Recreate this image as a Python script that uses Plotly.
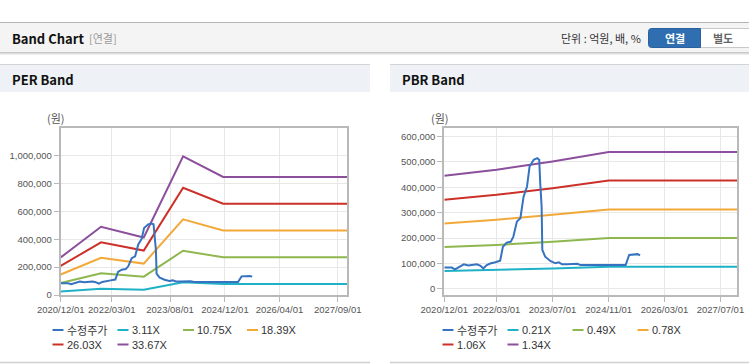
import plotly.graph_objects as go

W, H = 749, 364

# ---------------- data ----------------
price_name = "수정주가"
price_dates = ["2020-12-01", "2021-01-10", "2021-02-04", "2021-03-04", "2021-04-15", "2021-05-20",
               "2021-06-28", "2021-08-10", "2021-09-10", "2021-10-08", "2021-11-06", "2021-12-06",
               "2022-01-04", "2022-02-18", "2022-04-01", "2022-04-25", "2022-05-28", "2022-07-03",
               "2022-07-25", "2022-08-25", "2022-09-24", "2022-10-22", "2022-11-21", "2022-12-13",
               "2023-01-18", "2023-02-17", "2023-03-07", "2023-03-16", "2023-03-28", "2023-04-03",
               "2023-04-28", "2023-06-12", "2023-07-25", "2023-08-25", "2023-09-22", "2023-11-07",
               "2024-02-01", "2024-03-01", "2024-04-28", "2024-10-22", "2025-02-01", "2025-03-28",
               "2025-04-28", "2025-06-10", "2025-07-10", "2025-08-01"]
price_values = [84000, 85000, 84000, 77500, 88000, 97000,
                92500, 94000, 97000, 92000, 81000, 94000,
                100000, 105000, 111000, 166000, 182000, 186000,
                206000, 265000, 278000, 363000, 403000, 481000,
                508000, 514000, 508000, 416000, 324000, 154000,
                127000, 110000, 101000, 105000, 97000, 97000,
                99000, 94000, 94000, 94000, 94000, 94000,
                134000, 136000, 137000, 132000]

per_dates = ["2020-12-01", "2021-11-25", "2022-12-10", "2023-11-25", "2024-11-15", "2027-11-25"]
per_names = ["3.11X", "10.75X", "18.39X", "26.03X", "33.67X"]
per_311 = [24900, 45300, 38100, 92000, 78300, 78300]
per_1075 = [86200, 156400, 131900, 318000, 270800, 270800]
per_1839 = [147500, 267600, 225600, 544000, 463200, 463200]
per_2603 = [208700, 378800, 319300, 770000, 655600, 655600]
per_3367 = [270000, 490000, 413000, 996000, 848000, 848000]

pbr_dates = ["2020-12-01", "2022-03-01", "2023-07-01", "2024-11-01", "2027-11-25"]
pbr_names = ["0.21X", "0.49X", "0.78X", "1.06X", "1.34X"]
pbr_021 = [71000, 75000, 80500, 87000, 87000]
pbr_049 = [165000, 173000, 186000, 200000, 200000]
pbr_078 = [257000, 272000, 292000, 312000, 312000]
pbr_106 = [351000, 370000, 396000, 426000, 426000]
pbr_134 = [445000, 468500, 501000, 538000, 538000]

per_tick_vals = ["2020-12-01", "2022-03-01", "2023-08-01", "2024-12-01", "2026-04-01", "2027-09-01"]
per_tick_text = ["2020/12/01", "2022/03/01", "2023/08/01", "2024/12/01", "2026/04/01", "2027/09/01"]
pbr_tick_vals = ["2020-12-01", "2022-03-01", "2023-07-01", "2024-11-01", "2026-03-01", "2027-07-01"]
pbr_tick_text = ["2020/12/01", "2022/03/01", "2023/07/01", "2024/11/01", "2026/03/01", "2027/07/01"]

per_y_ticks = [0, 200000, 400000, 600000, 800000, 1000000]
pbr_y_ticks = [0, 100000, 200000, 300000, 400000, 500000, 600000]

x_start, x_end = "2020-12-01", "2027-11-25"

# ---------------- style ----------------
price_color = "#3572c0"
band_colors = ["#1fb1c6", "#8fb74f", "#f2a93a", "#cc3129", "#8c4f9c"]
FONT_TXT = "Noto Sans CJK KR, Noto Sans, sans-serif"
FONT_TICK = "Liberation Sans, Arial, sans-serif"


def X(px):
    return px / W


def Y(py):
    return 1 - py / H


fig = go.Figure()

per_series = [per_311, per_1075, per_1839, per_2603, per_3367]
pbr_series = [pbr_021, pbr_049, pbr_078, pbr_106, pbr_134]

for vals, nm, col in zip(per_series, per_names, band_colors):
    fig.add_trace(go.Scatter(x=per_dates, y=vals, name=nm, mode="lines",
                             line=dict(color=col, width=2), xaxis="x", yaxis="y",
                             showlegend=False))
fig.add_trace(go.Scatter(x=price_dates, y=price_values, name=price_name, mode="lines",
                         line=dict(color=price_color, width=2), xaxis="x", yaxis="y",
                         showlegend=False))

for vals, nm, col in zip(pbr_series, pbr_names, band_colors):
    fig.add_trace(go.Scatter(x=pbr_dates, y=vals, name=nm, mode="lines",
                             line=dict(color=col, width=2), xaxis="x2", yaxis="y2",
                             showlegend=False))
fig.add_trace(go.Scatter(x=price_dates, y=price_values, name=price_name, mode="lines",
                         line=dict(color=price_color, width=2), xaxis="x2", yaxis="y2",
                         showlegend=False))

axis_common = dict(showline=True, linecolor="#b9b9b9", linewidth=2, mirror=True,
                   showgrid=True, gridcolor="#e8e8e8", gridwidth=1,
                   ticks="outside", ticklen=5, tickcolor="#b9b9b9", tickwidth=1,
                   tickfont=dict(family=FONT_TICK, size=9.5, color="#555555"),
                   tickangle=0, automargin=False,
                   zeroline=False, fixedrange=True)

y_lo, y_hi = 1 - 295 / H, 1 - 128 / H

fig.update_layout(
    width=W, height=H,
    margin=dict(l=0, r=0, t=0, b=0, pad=0, autoexpand=False),
    paper_bgcolor="#ffffff", plot_bgcolor="#ffffff",
    showlegend=False,
    xaxis=dict(domain=[X(60.7), X(347.3)], type="date", range=[x_start, x_end],
               tickvals=per_tick_vals, ticktext=per_tick_text, anchor="y", **axis_common),
    yaxis=dict(domain=[y_lo, y_hi], range=[0, 1200000], tickvals=per_y_ticks,
               tickformat=",d", anchor="x", **axis_common),
    xaxis2=dict(domain=[X(444.3), X(737.3)], type="date", range=[x_start, x_end],
                tickvals=pbr_tick_vals, ticktext=pbr_tick_text, anchor="y2", **axis_common),
    yaxis2=dict(domain=[y_lo, y_hi], range=[-23600, 632700], tickvals=pbr_y_ticks,
                tickformat=",d", anchor="x2", **axis_common),
)

shapes = []
annots = []


def rect(x0, y0, x1, y1, fill, line=None, lw=0):
    shapes.append(dict(type="rect", xref="paper", yref="paper", layer="below",
                       x0=X(x0), x1=X(x1), y0=Y(y1), y1=Y(y0), fillcolor=fill,
                       line=dict(color=line or fill, width=lw)))


def hline(x0, x1, y, color, w=1):
    shapes.append(dict(type="line", xref="paper", yref="paper", layer="below",
                       x0=X(x0), x1=X(x1), y0=Y(y), y1=Y(y), line=dict(color=color, width=w)))


def rounded(x0, y0, x1, y1, r, left, right, fill, line):
    # path in paper coordinates, rounded corners on chosen sides
    rx, ry = r / W, r / H
    a, b, c, d = X(x0), X(x1), Y(y1), Y(y0)  # c bottom, d top
    p = []
    if left:
        p.append(f"M{a + rx},{d}")
    else:
        p.append(f"M{a},{d}")
    if right:
        p.append(f"L{b - rx},{d} Q{b},{d} {b},{d - ry} L{b},{c + ry} Q{b},{c} {b - rx},{c}")
    else:
        p.append(f"L{b},{d} L{b},{c}")
    if left:
        p.append(f"L{a + rx},{c} Q{a},{c} {a},{c + ry} L{a},{d - ry} Q{a},{d} {a + rx},{d} Z")
    else:
        p.append(f"L{a},{c} Z")
    shapes.append(dict(type="path", xref="paper", yref="paper", layer="below",
                       path=" ".join(p), fillcolor=fill, line=dict(color=line, width=1)))


def text(x, y, s, size=11, color="#333333", anchor="left", family=FONT_TXT, h=None):
    a = dict(xref="paper", yref="paper", x=X(x), y=Y(y), text=s, showarrow=False,
             xanchor=anchor, yanchor="middle", borderpad=0,
             font=dict(family=family, size=size, color=color))
    if h:
        a["height"] = h
    annots.append(a)


# top bar
hline(0, W, 22.5, "#b5b5b5", 1)
rect(0, 23, W, 52, "#f4f4f4")
hline(0, W, 52.5, "#c8c8c8", 1)
hline(0, W, 53.5, "#dddddd", 1)
hline(0, W, 54.5, "#eeeeee", 1)
text(11, 38.5, "<b>Band Chart</b>", size=13, color="#111111")
text(88, 38.5, "[연결]", size=11, color="#999999")
text(642, 38.5, "단위 : 억원, 배, %", size=11, color="#333333", anchor="right")

# buttons
rounded(700, 28.5, 753, 47.5, 3, False, True, "#ffffff", "#c9c9c9")
rounded(648.5, 28.5, 700.5, 47.5, 3, True, False, "#2f6fb1", "#2a62a0")
text(674.5, 38.5, "<b>연결</b>", size=11, color="#ffffff", anchor="center")
text(723, 38.5, "<b>별도</b>", size=11, color="#666666", anchor="center")

# panels
for (px0, px1, title) in [(0, 370, "PER Band"), (390, W, "PBR Band")]:
    hline(px0, px1, 64.5, "#d4d4d4", 1)
    rect(px0, 65, px1, 92, "#eef1f6")
    hline(px0, px1, 362.5, "#d0d0d0", 1.5)
    text(px0 + 11, 79.5, "<b>" + title + "</b>", size=13, color="#111111")

text(55.5, 118.5, "(원)", size=11, color="#555555", anchor="center")
text(439.5, 118.5, "(원)", size=11, color="#555555", anchor="center")


# custom legends
def legend(items, xs, rows_y):
    for i, (nm, col) in enumerate(items):
        row, c = divmod(i, 4)
        x0 = xs[c]
        y = rows_y[row]
        shapes.append(dict(type="line", xref="paper", yref="paper",
                           x0=X(x0), x1=X(x0 + 11), y0=Y(y), y1=Y(y),
                           line=dict(color=col, width=2)))
        fam = FONT_TXT if i == 0 else FONT_TICK
        text(x0 + 13, y, nm, size=11, color="#333333", family=fam)


legend([(price_name, price_color)] + list(zip(per_names, band_colors)),
       [52.5, 117.5, 183, 247], [330, 344.5])
legend([(price_name, price_color)] + list(zip(pbr_names, band_colors)),
       [442.5, 507.5, 572.5, 637.5], [330, 344.5])

fig.update_layout(shapes=shapes, annotations=annots)

fig.write_html("out.html", include_plotlyjs=True, full_html=True,
               config={"displayModeBar": False},
               post_script="document.body.style.margin='0';document.body.style.overflow='hidden';")
